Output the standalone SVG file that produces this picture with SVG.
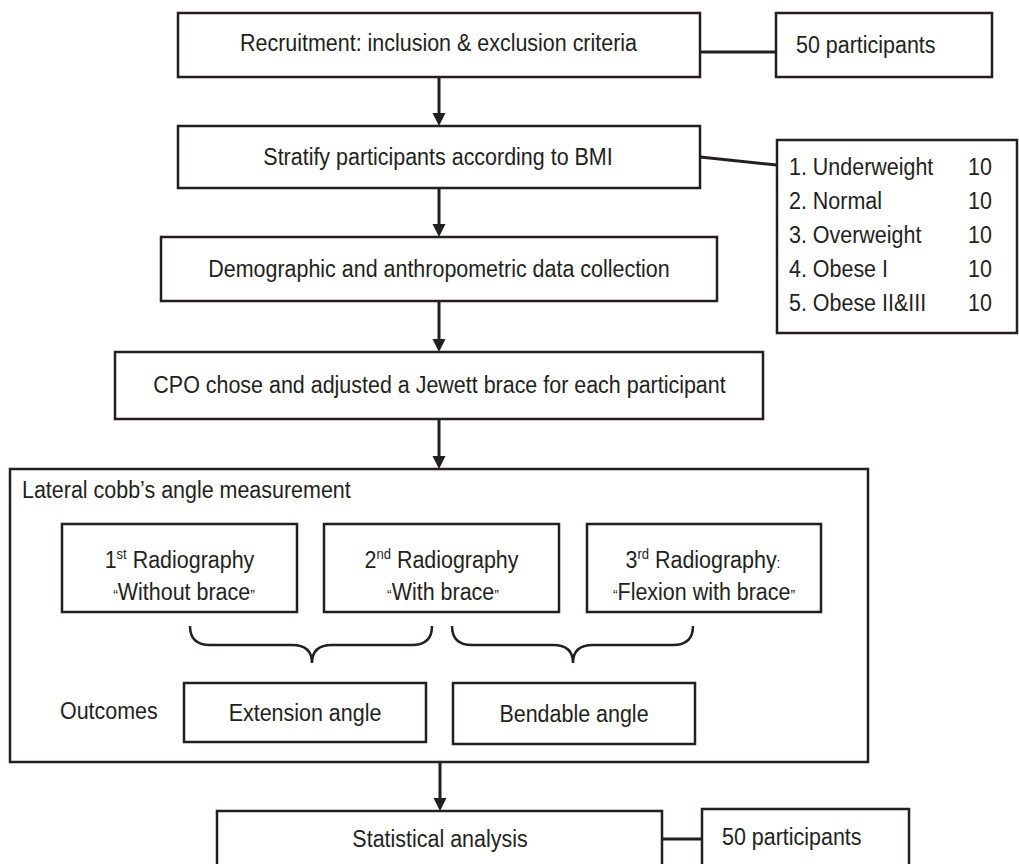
<svg xmlns="http://www.w3.org/2000/svg" width="1019" height="864" viewBox="0 0 1019 864">
<style>
.box{fill:#fff;stroke:#231f20;stroke-width:2.5}
.frame{fill:none;stroke:#231f20;stroke-width:2.5}
.ln{stroke:#231f20;stroke-width:3;fill:none}
.br{stroke:#231f20;stroke-width:2.5;fill:none}
.ah{fill:#231f20}
text{font-family:"Liberation Sans",Arial,sans-serif;font-size:23px;fill:#231f20}
.m{text-anchor:middle}
.q{font-size:15px}
.sup{font-size:14px}
</style>
<rect width="1019" height="864" fill="#fff"/>
<g id="lateral-cobb">
<rect class="frame" x="10" y="469" width="858" height="293"/>
<text transform="matrix(0.933 0 0 1 22 498)">Lateral cobb’s angle measurement</text>
</g>
<g id="connectors">
<line class="ln" x1="439" y1="77" x2="439" y2="114"/><polygon class="ah" points="432.5,113 445.5,113 439,126"/>
<line class="ln" x1="439" y1="188" x2="439" y2="225"/><polygon class="ah" points="432.5,224 445.5,224 439,237"/>
<line class="ln" x1="439" y1="301" x2="439" y2="340"/><polygon class="ah" points="432.5,339 445.5,339 439,352"/>
<line class="ln" x1="439" y1="419" x2="439" y2="457"/><polygon class="ah" points="432.5,456 445.5,456 439,469"/>
<line class="ln" x1="440" y1="762" x2="440" y2="799"/><polygon class="ah" points="433.5,798 446.5,798 440,811"/>
<line class="ln" x1="700" y1="52" x2="776" y2="52"/>
<line class="ln" x1="700" y1="157" x2="777" y2="165"/>
<line class="ln" x1="662" y1="839" x2="702" y2="839"/>
<path class="br" d="M190,626 Q190,645 210,645 L292,645 Q312,645 312,663 Q312,645 332,645 L412,645 Q432,645 432,626"/>
<path class="br" d="M452,626 Q452,645 472,645 L553,645 Q573,645 573,663 Q573,645 593,645 L673,645 Q693,645 693,626"/>
</g>
<g id="recruitment">
<rect class="box" x="178" y="13" width="522" height="64"/>
<text class="m" transform="matrix(0.933 0 0 1 438.5 51)">Recruitment: inclusion &amp; exclusion criteria</text>
</g>
<g id="participants-top">
<rect class="box" x="776" y="13" width="216" height="64"/>
<text transform="matrix(0.933 0 0 1 796 53)">50 participants</text>
</g>
<g id="stratify">
<rect class="box" x="178" y="126" width="522" height="62"/>
<text class="m" transform="matrix(0.933 0 0 1 438 165)">Stratify participants according to BMI</text>
</g>
<g id="bmi-groups">
<rect class="box" x="777" y="140" width="240" height="193"/>
<text transform="matrix(0.933 0 0 1 789 175)">1. Underweight</text>
<text transform="matrix(0.933 0 0 1 968 175)">10</text>
<text transform="matrix(0.933 0 0 1 789 209)">2. Normal</text>
<text transform="matrix(0.933 0 0 1 968 209)">10</text>
<text transform="matrix(0.933 0 0 1 789 243)">3. Overweight</text>
<text transform="matrix(0.933 0 0 1 968 243)">10</text>
<text transform="matrix(0.933 0 0 1 789 277)">4. Obese I</text>
<text transform="matrix(0.933 0 0 1 968 277)">10</text>
<text transform="matrix(0.933 0 0 1 789 311)">5. Obese II&amp;III</text>
<text transform="matrix(0.933 0 0 1 968 311)">10</text>
</g>
<g id="demographic">
<rect class="box" x="161" y="237" width="556" height="64"/>
<text class="m" transform="matrix(0.933 0 0 1 439 277)">Demographic and anthropometric data collection</text>
</g>
<g id="cpo">
<rect class="box" x="115" y="352" width="648" height="67"/>
<text class="m" transform="matrix(0.933 0 0 1 439.5 393)">CPO chose and adjusted a Jewett brace for each participant</text>
</g>
<g id="radiography-1">
<rect class="box" x="62" y="524" width="235" height="88"/>
<text class="m" transform="matrix(0.933 0 0 1 179.5 568)">1<tspan class="sup" dy="-9">st</tspan><tspan dy="9"> Radiography</tspan></text>
<text class="m" transform="matrix(0.933 0 0 1 184 600)"><tspan class="q">“</tspan>Without brace<tspan class="q">”</tspan></text>
</g>
<g id="radiography-2">
<rect class="box" x="324" y="524" width="235" height="88"/>
<text class="m" transform="matrix(0.933 0 0 1 441.5 568)">2<tspan class="sup" dy="-9">nd</tspan><tspan dy="9"> Radiography</tspan></text>
<text class="m" transform="matrix(0.933 0 0 1 443 600)"><tspan class="q">“</tspan>With brace<tspan class="q">”</tspan></text>
</g>
<g id="radiography-3">
<rect class="box" x="587" y="524" width="234" height="88"/>
<text class="m" transform="matrix(0.933 0 0 1 703 568)">3<tspan class="sup" dy="-9">rd</tspan><tspan dy="9"> Radiography</tspan><tspan class="q">:</tspan></text>
<text class="m" transform="matrix(0.933 0 0 1 704 600)"><tspan class="q">“</tspan>Flexion with brace<tspan class="q">”</tspan></text>
</g>
<g id="outcomes-label">
<text transform="matrix(0.933 0 0 1 60 719)">Outcomes</text>
</g>
<g id="extension-angle">
<rect class="box" x="184" y="683" width="242" height="59"/>
<text class="m" transform="matrix(0.933 0 0 1 305 721)">Extension angle</text>
</g>
<g id="bendable-angle">
<rect class="box" x="453" y="683" width="242" height="61"/>
<text class="m" transform="matrix(0.933 0 0 1 574 722)">Bendable angle</text>
</g>
<g id="statistical-analysis">
<rect class="box" x="217" y="811" width="445" height="60"/>
<text class="m" transform="matrix(0.933 0 0 1 440 847)">Statistical analysis</text>
</g>
<g id="participants-bottom">
<rect class="box" x="702" y="809" width="207" height="62"/>
<text transform="matrix(0.933 0 0 1 722 845)">50 participants</text>
</g>
</svg>
